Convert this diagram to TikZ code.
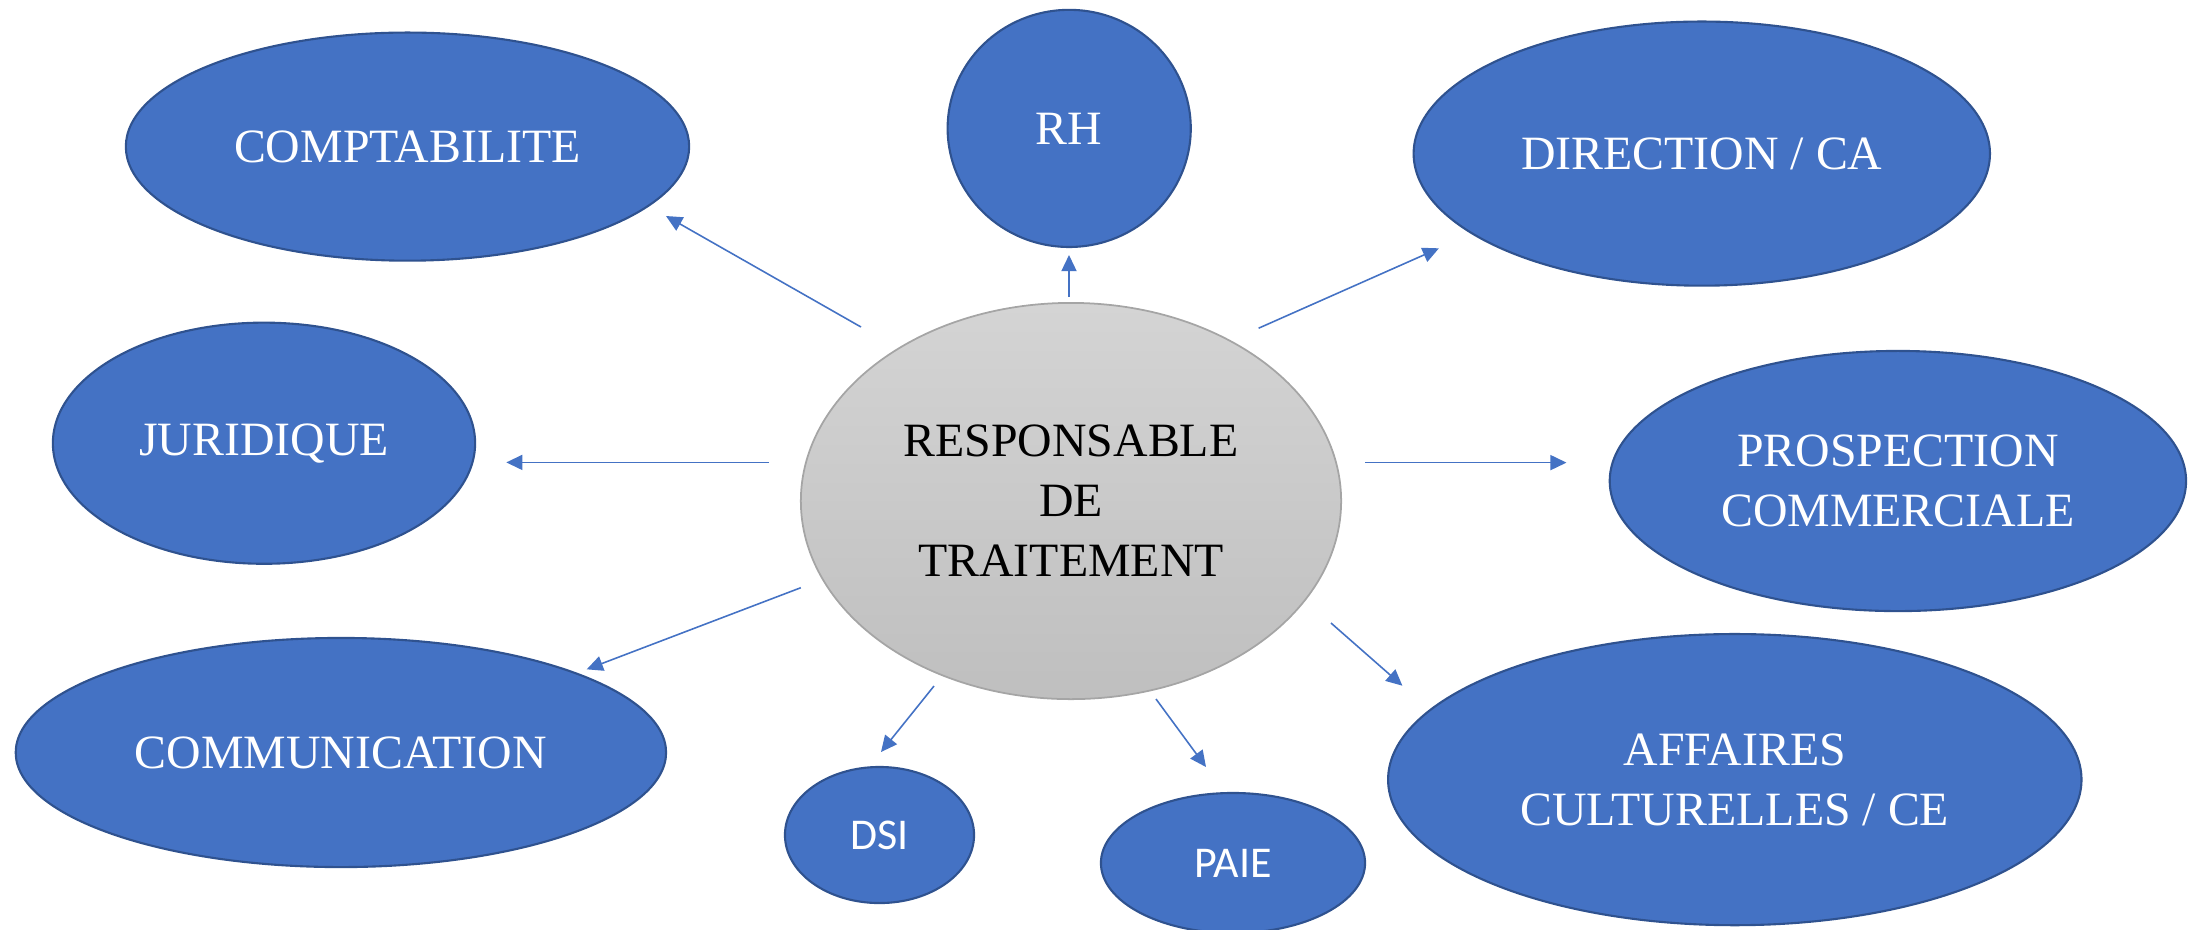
\documentclass[tikz,border=0pt]{standalone}
\usepackage{fontspec}
\setmainfont{Liberation Serif}
\newfontfamily\calibrifont{Carlito}
\usepackage{xcolor}
\definecolor{primary}{RGB}{68,114,196}
\definecolor{primarydark}{RGB}{47,82,143}
\definecolor{greytop}{RGB}{212,212,212}
\definecolor{greybottom}{RGB}{191,191,191}
\definecolor{greyline}{RGB}{165,165,165}
\usepackage{tikz}
\usetikzlibrary{shapes.geometric,arrows.meta}

\begin{document}
\begin{tikzpicture}[x=0.01cm, y=-0.01cm,
    dept/.style={ellipse, draw=primarydark, line width=0.6pt, fill=primary, text=white, inner sep=0pt, align=center, font=\fontsize{13.6}{17.1}\selectfont},
    small/.style={dept, font=\calibrifont\fontsize{12.5}{15}\selectfont},
    hub/.style={ellipse, draw=greyline, line width=0.5pt, top color=greytop, bottom color=greybottom, inner sep=0pt, align=center, font=\fontsize{13.6}{17.1}\selectfont},
    line/.style={draw=primary, line width=0.45pt, -{Triangle[length=4.6pt, width=4.3pt]}}]

    \useasboundingbox (0,0) rectangle (2190,929);

    % Responsable
    \node [hub, minimum width=5.40cm, minimum height=3.96cm] (resp) at (1071,501) {RESPONSABLE\\DE\\TRAITEMENT};

    % Services top row
    \node [dept, minimum width=5.63cm, minimum height=2.28cm] (compta) at (407.5,146.6) {COMPTABILITE};
    \node [dept, minimum width=2.43cm, minimum height=2.37cm] (rh) at (1069.2,128.4) {RH};
    \node [dept, minimum width=5.76cm, minimum height=2.64cm] (direction) at (1701.8,153.6) {DIRECTION / CA};

    % Services middle row
    \node [dept, minimum width=4.22cm, minimum height=2.41cm] (juridique) at (264,443.2) {JURIDIQUE};
    \node [dept, minimum width=5.76cm, minimum height=2.60cm] (prospection) at (1897.9,481) {PROSPECTION\\COMMERCIALE};

    % Services bottom row
    \node [dept, minimum width=6.50cm, minimum height=2.29cm] (communication) at (340.9,752.5) {COMMUNICATION};
    \node [small, minimum width=1.89cm, minimum height=1.36cm] (dsi) at (879.5,835) {DSI};
    \node [small, minimum width=2.64cm, minimum height=1.40cm] (paie) at (1233,863) {PAIE};
    \node [dept, minimum width=6.93cm, minimum height=2.91cm] (affaires) at (1734.8,779.6) {AFFAIRES\\CULTURELLES / CE};

    % Arrow ends
    \coordinate (s-compta) at (861,327);         \coordinate (e-compta) at (666,216);
    \coordinate (s-rh) at (1069,297);            \coordinate (e-rh) at (1069,255);
    \coordinate (s-direction) at (1258.6,328.2); \coordinate (e-direction) at (1438.9,248.3);
    \coordinate (s-juridique) at (769,462.4);    \coordinate (e-juridique) at (506.3,462.4);
    \coordinate (s-prospection) at (1365,462.6); \coordinate (e-prospection) at (1566.5,462.6);
    \coordinate (s-communication) at (800.8,587.7); \coordinate (e-communication) at (586.7,669.3);
    \coordinate (s-dsi) at (934,686);            \coordinate (e-dsi) at (881,752);
    \coordinate (s-paie) at (1156,699);          \coordinate (e-paie) at (1206,767);
    \coordinate (s-affaires) at (1331,623);      \coordinate (e-affaires) at (1402.4,685.7);

    % Connections
    \path [line] (s-compta) -- (e-compta);
    \path [line] (s-rh) -- (e-rh);
    \path [line] (s-direction) -- (e-direction);
    \path [line] (s-juridique) -- (e-juridique);
    \path [line] (s-prospection) -- (e-prospection);
    \path [line] (s-communication) -- (e-communication);
    \path [line] (s-dsi) -- (e-dsi);
    \path [line] (s-paie) -- (e-paie);
    \path [line] (s-affaires) -- (e-affaires);
\end{tikzpicture}
\end{document}
